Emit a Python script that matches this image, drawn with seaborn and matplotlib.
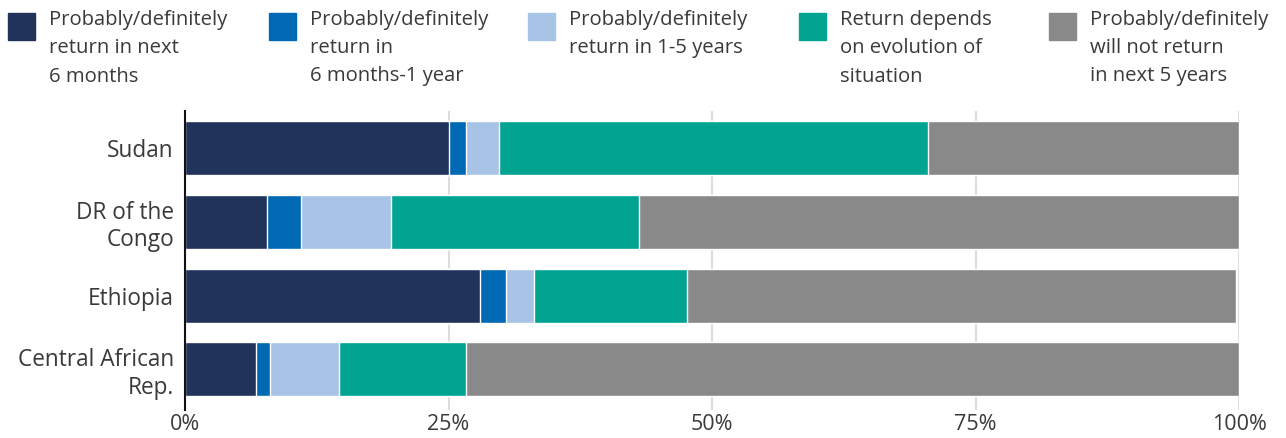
import numpy as np
import pandas as pd
import seaborn as sns
import matplotlib.pyplot as plt
from matplotlib.patches import Rectangle

# Share of respondents (%) by return intention
countries = ["Sudan", "DR of the\nCongo", "Ethiopia", "Central African\nRep."]
next_6m = [25.0, 7.8, 28.0, 6.7]
in_6m_1y = [1.7, 3.2, 2.5, 1.4]
in_1_5y = [3.1, 8.5, 2.6, 6.5]
depends = [40.7, 23.6, 14.5, 12.1]
not_return = [29.5, 56.9, 52.1, 73.3]

labels = [
    "Probably/definitely\nreturn in next\n6 months",
    "Probably/definitely\nreturn in\n6 months-1 year",
    "Probably/definitely\nreturn in 1-5 years",
    "Return depends\non evolution of\nsituation",
    "Probably/definitely\nwill not return\nin next 5 years",
]
colors = ["#21325b", "#0069b4", "#a7c4e7", "#00a491", "#898989"]

df = pd.DataFrame(
    {"country": countries, "s0": next_6m, "s1": in_6m_1y, "s2": in_1_5y,
     "s3": depends, "s4": not_return}
)
series = ["s0", "s1", "s2", "s3", "s4"]
cum = df[series].cumsum(axis=1)

sns.set_theme(style="white")
plt.rcParams["font.family"] = ["Open Sans", "DejaVu Sans"]
text_color = "#3a3a3a"

fig = plt.figure(figsize=(12.86, 4.38), dpi=100)
ax = fig.add_axes([185 / 1286, 1 - 410 / 438, (1239 - 185) / 1286, 299 / 438])

# stacked bars: draw cumulative totals from the right-most segment back
for i in reversed(range(len(series))):
    sns.barplot(x=cum[series[i]], y=df["country"], color=colors[i],
                orient="h", width=0.73, saturation=1, ax=ax, zorder=2)

ax.set_xlim(0, 100)
ax.set_ylim(3.55, -0.5)
ax.set_xticks([0, 25, 50, 75, 100])
ax.set_xticklabels(["0%", "25%", "50%", "75%", "100%"])
ax.xaxis.grid(True, color="#dddddd", linewidth=1.5, zorder=0)
ax.set_axisbelow(True)
ax.set_xlabel("")
ax.set_ylabel("")
for side in ["top", "right", "bottom"]:
    ax.spines[side].set_visible(False)
ax.spines["left"].set_color("#111111")
ax.spines["left"].set_linewidth(1.5)
ax.spines["left"].set_zorder(5)
ax.tick_params(axis="y", length=0, labelsize=16.3, colors=text_color, pad=8)
ax.tick_params(axis="x", length=0, labelsize=15.5, colors=text_color, pad=3)
for t in ax.get_yticklabels():
    t.set_linespacing(1.2)

# legend across the top, square aligned with first line
sq_x = [8, 269, 528, 799, 1049]
for x0, lab, col in zip(sq_x, labels, colors):
    fig.add_artist(Rectangle((x0 / 1286, 1 - 40 / 438), 27 / 1286, 27 / 438,
                             transform=fig.transFigure, color=col))
    fig.text((x0 + 41) / 1286, 1 - 10 / 438, lab, ha="left", va="top",
             fontsize=14.6, color=text_color, linespacing=1.55)

fig.savefig("out.png", dpi=100)
